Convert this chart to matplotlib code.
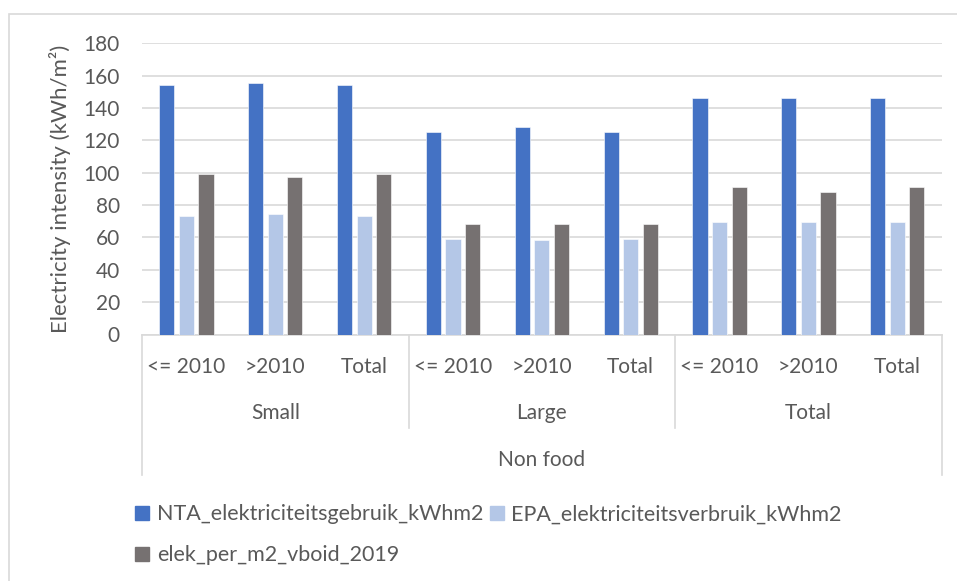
import matplotlib
matplotlib.use("Agg")
import matplotlib.pyplot as plt
from matplotlib.patches import Rectangle
from matplotlib.lines import Line2D
import numpy as np

plt.rcParams['font.family'] = ['Lato', 'DejaVu Sans']

# Data
age_labels = ["<= 2010", ">2010", "Total", "<= 2010", ">2010", "Total", "<= 2010", ">2010", "Total"]
size_labels = ["Small", "Large", "Total"]
sector_label = "Non food"
series_names = ["NTA_elektriciteitsgebruik_kWhm2", "EPA_elektriciteitsverbruik_kWhm2", "elek_per_m2_vboid_2019"]
nta = [154.2, 155.2, 154.2, 124.9, 128.0, 124.9, 146.0, 146.3, 146.0]
epa = [73.2, 74.4, 73.2, 59.1, 58.7, 59.0, 69.3, 69.3, 69.3]
elek = [99.1, 97.5, 99.1, 68.0, 68.4, 68.0, 90.9, 88.0, 90.9]
yticks = [0, 20, 40, 60, 80, 100, 120, 140, 160, 180]

colors = ["#4472C4", "#B4C7E7", "#767171"]
text_color = "#595959"
line_color = "#D9D9D9"

W, H = 957, 581
fig = plt.figure(figsize=(W / 100, H / 100), dpi=100)
ax = fig.add_axes([142 / W, (H - 334.5) / H, (941.7 - 142) / W, 291.2 / H])

x = np.arange(len(age_labels))
bw = 0.17
step = 0.22
for i, (vals, c, name) in enumerate(zip([nta, epa, elek], colors, series_names)):
    ax.bar(x + (i - 1) * step, vals, width=bw, color=c, label=name,
           edgecolor="white", linewidth=0.4, zorder=3)

ax.set_xlim(-0.5, len(age_labels) - 0.5)
ax.set_ylim(0, 180)
ax.set_yticks(yticks)
ax.tick_params(axis="y", length=0, pad=16, labelsize=15, labelcolor=text_color)
ax.yaxis.grid(True, color=line_color, linewidth=1.2, zorder=0)
ax.set_axisbelow(True)
for s in ["left", "right", "top"]:
    ax.spines[s].set_visible(False)
ax.spines["bottom"].set_color(line_color)
ax.spines["bottom"].set_linewidth(1.2)

# First level of category labels
ax.set_xticks(x)
ax.set_xticklabels(age_labels)
ax.tick_params(axis="x", length=0, pad=16.5, labelsize=15, labelcolor=text_color)

trans = ax.get_xaxis_transform()
# Second level labels
for g, name in enumerate(size_labels):
    ax.text(g * 3 + 1, -0.268, name, transform=trans, ha="center", va="center",
            fontsize=15, color=text_color)
# Third level label
ax.text((len(age_labels) - 1) / 2, -0.432, sector_label, transform=trans,
        ha="center", va="center", fontsize=15, color=text_color)

# Category dividers
for xb, y0 in [(-0.5, -0.482), (len(age_labels) - 0.5, -0.482), (2.5, -0.321), (5.5, -0.321)]:
    ax.add_line(Line2D([xb, xb], [0, y0], transform=trans, color=line_color,
                       linewidth=1.2, clip_on=False))

ax.set_ylabel("Electricity intensity (kWh/m²)", fontsize=16, color=text_color, labelpad=9)

# Legend
handles = [Rectangle((0, 0), 1, 1, color=c) for c in colors]
order = [0, 2, 1]
leg = fig.legend([handles[i] for i in order], [series_names[i] for i in order],
                 ncol=2, loc="upper left", bbox_to_anchor=(116 / W, 1 - 485 / H),
                 frameon=False, fontsize=15.5, handlelength=0.65, handleheight=0.65,
                 handletextpad=0.35, columnspacing=0.3, labelspacing=0.98)
for t in leg.get_texts():
    t.set_color(text_color)

# Chart area border
fig.add_artist(Rectangle((8.5 / W, -0.1), 1.2, 1.1 - 14.5 / H, transform=fig.transFigure,
                         fill=False, edgecolor=line_color, linewidth=1.2))

fig.savefig("out.png", dpi=100, facecolor="white")
